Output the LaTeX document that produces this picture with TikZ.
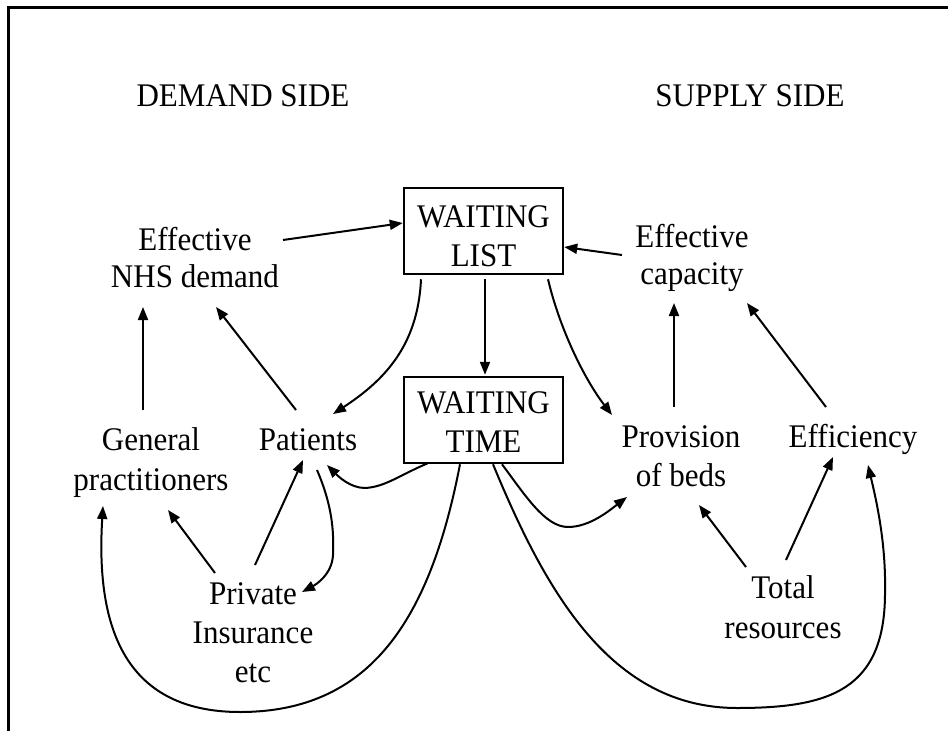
\documentclass[tikz,border=0pt]{standalone}
\usepackage{fontspec}
\setmainfont{Liberation Serif}[FakeStretch=0.94]
\usetikzlibrary{arrows.meta,calc}
\begin{document}
\begin{tikzpicture}[x=1pt,y=-1pt,
  lbl/.style={align=center, anchor=base, inner sep=0pt, font=\fontsize{33}{39}\selectfont},
  boxnode/.style={draw, line width=2.5pt, minimum width=159pt, minimum height=86pt, inner sep=0pt, align=center, font=\fontsize{33}{39}\selectfont},
  conn/.style={line width=2pt, -{Triangle[length=13pt,width=10pt]}, line join=round},
  frame/.style={line width=3pt}
]
\useasboundingbox (0,0) rectangle (948,731);
\clip (0,0) rectangle (948,731);
\draw[frame] (8.5,745) -- (8.5,7) -- (960,7);

\node[lbl] (demand) at (243,106) {DEMAND SIDE};
\node[lbl] (supply) at (750,106) {SUPPLY SIDE};
\node[boxnode, text height=70pt, text depth=0pt] (wl) at (483.5,231) {WAITING\\LIST};
\node[boxnode, text height=64pt, text depth=0pt] (wt) at (483.5,420) {WAITING\\TIME};

\node[lbl, font=\fontsize{33}{37}\selectfont] (nhs) at (195,287) {Effective\\NHS demand};
\node[lbl, font=\fontsize{33}{37}\selectfont] (cap) at (692,284) {Effective\\capacity};
\node[lbl, font=\fontsize{33}{40}\selectfont] (gp) at (151,490) {General\\practitioners};
\node[lbl] (pat) at (308,450) {Patients};
\node[lbl] (prov) at (681,486) {Provision\\of beds};
\node[lbl] (eff) at (853,447) {Efficiency};
\node[lbl] (priv) at (253,682) {Private\\Insurance\\etc};
\node[lbl, font=\fontsize{33}{40}\selectfont] (tot) at (783,638) {Total\\resources};

\draw[conn] ($(nhs.base)+(88,-47)$) -- ($(wl.west)+(0,-8)$);
\draw[conn] ($(cap.base)+(-70,-29)$) -- ($(wl.east)+(0,16)$);
\draw[conn] ($(wl.south)+(1.5,4)$) -- ($(wt.north)+(1.5,-1)$);
\draw[conn] ($(wl.south)+(-62.5,4)$) .. controls (418,345) and (385,380) .. ($(pat.base)+(25,-36)$);
\draw[conn] ($(wl.south)+(64.5,4)$) .. controls (560,330) and (585,380) .. ($(prov.base)+(-69,-71)$);
\draw[conn] ($(prov.base)+(-7,-79)$) -- ($(cap.base)+(-18,19)$);
\draw[conn] ($(eff.base)+(-27,-40)$) -- ($(cap.base)+(55,19)$);
\draw[conn] ($(gp.base)+(-8,-80)$) -- ($(nhs.base)+(-52,20)$);
\draw[conn] ($(pat.base)+(-12,-40)$) -- ($(nhs.base)+(21,20)$);
\draw[conn] ($(priv.base)+(-38,-109)$) -- ($(gp.base)+(17,20)$);
\draw[conn] ($(priv.base)+(2,-117)$) -- ($(pat.base)+(-5,10)$);
\draw[conn] ($(tot.base)+(-37,-71)$) -- ($(prov.base)+(18,19)$);
\draw[conn] ($(tot.base)+(3,-78)$) -- ($(eff.base)+(-20,10)$);
\draw[conn] ($(pat.base)+(9,20)$) .. controls (332,505) and (334,530) .. (333,555) .. controls (332,575) and (315,585) .. ($(priv.base)+(49,-90)$);
\draw[conn] ($(wt.south west)+(25,-1)$) .. controls (400,475) and (385,487) .. (365,488) .. controls (350,488) and (338,476) .. ($(pat.base)+(19,15)$);
\draw[conn] ($(wt.south)+(-23.5,0)$) .. controls (430,620) and (370,712) .. (240,712) .. controls (120,712) and (96,620) .. ($(gp.base)+(-48,16)$);
\draw[conn] ($(wt.south)+(18.5,0)$) .. controls (525,495) and (545,527) .. (568,527) .. controls (590,527) and (610,510) .. ($(prov.base)+(-54,11)$);
\draw[conn] ($(wt.south)+(9.5,0)$) .. controls (545,590) and (610,708) .. (737,708) .. controls (830,708) and (886,690) .. (885,590) .. controls (886,540) and (875,495) .. ($(eff.base)+(15,18)$);
\end{tikzpicture}
\end{document}
